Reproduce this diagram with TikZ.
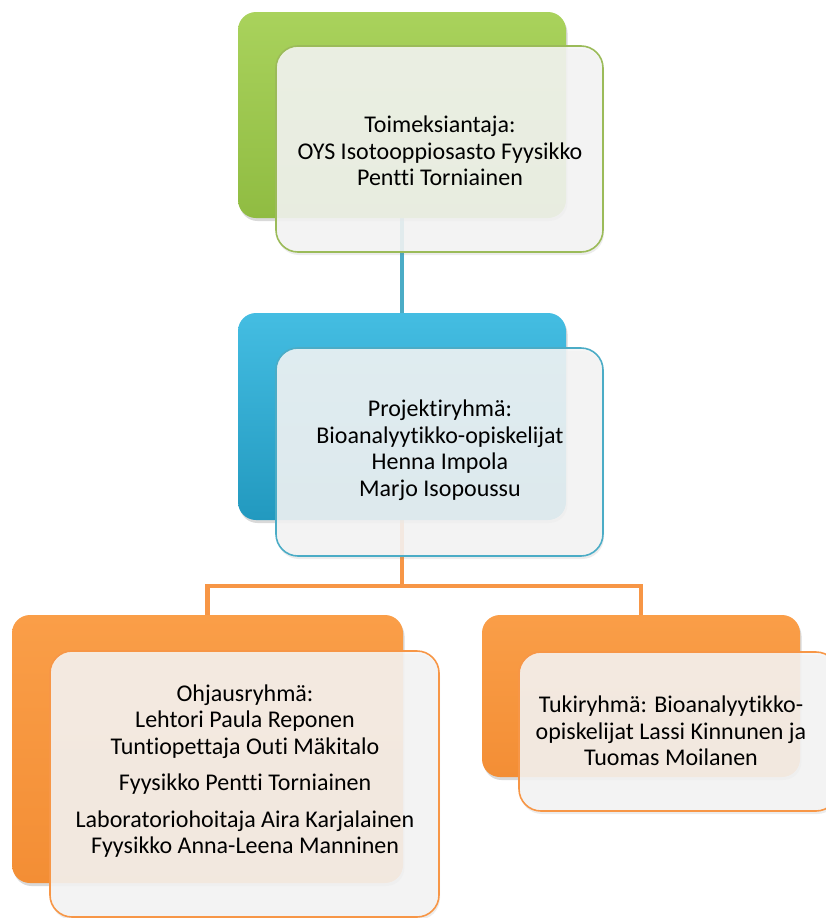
\documentclass[tikz,border=0pt]{standalone}
\usepackage{fontspec}
\setmainfont[Ligatures=NoCommon]{Carlito}
\usetikzlibrary{shadows}
\pgfdeclarelayer{background}
\pgfsetlayers{background,main}
\definecolor{gtop}{HTML}{A9D25C}
\definecolor{gbot}{HTML}{90BC42}
\definecolor{gline}{HTML}{9BBB59}
\definecolor{btop}{HTML}{44BDE2}
\definecolor{bbot}{HTML}{2299BF}
\definecolor{bline}{HTML}{4BACC6}
\definecolor{otop}{HTML}{FA9E48}
\definecolor{obot}{HTML}{F38E35}
\definecolor{oline}{HTML}{F79646}
\definecolor{frontfill}{HTML}{F5F5F5}
\begin{document}
\begin{tikzpicture}[x=1pt,y=-1pt,
  backbox/.style={rectangle, rounded corners=18pt, inner sep=0pt, draw=none,
    drop shadow={shadow xshift=1.5pt, shadow yshift=-3pt, opacity=0.3}},
  frontbox/.style={rectangle, rounded corners=22pt, inner sep=0pt, line width=1.6pt,
    fill=frontfill, fill opacity=0.88, draw opacity=1,
    drop shadow={shadow xshift=1pt, shadow yshift=-3pt, opacity=0.15}},
  label/.style={align=center, font=\fontsize{24}{26.5}\selectfont, text=black},
  blueconn/.style={line width=4pt, draw=bline},
  orangeconn/.style={line width=4.5pt, draw=oline}]
\useasboundingbox (0,0) rectangle (825,918);
% back boxes
\node[backbox, top color=gtop, bottom color=gbot, minimum width=328pt, minimum height=206pt] (gback) at (402,115) {};
\node[backbox, top color=btop, bottom color=bbot, minimum width=328pt, minimum height=207pt] (bback) at (402,416.5) {};
\node[backbox, top color=otop, bottom color=obot, minimum width=391pt, minimum height=268pt] (lback) at (207.5,749) {};
\node[backbox, top color=otop, bottom color=obot, minimum width=318pt, minimum height=162pt] (rback) at (641,696) {};
% connectors
\coordinate (j) at (402,586);
\begin{pgfonlayer}{background}
\draw[blueconn] (gback.south) -- (bback.north);
\draw[orangeconn] (bback.south) -- (j);
\draw[orangeconn] (lback.north) -- (lback.north |- j) -- (rback.north |- j) -- (rback.north);
\end{pgfonlayer}
% front boxes
\node[frontbox, draw=gline, minimum width=327pt, minimum height=206pt] (gfront) at (439.5,149) {};
\node[frontbox, draw=bline, minimum width=327pt, minimum height=208pt] (bfront) at (439.5,452) {};
\node[frontbox, draw=oline, minimum width=389pt, minimum height=266pt] (lfront) at (244.5,784) {};
\node[frontbox, draw=oline, minimum width=319pt, minimum height=159pt] (rfront) at (678.5,731.5) {};
% texts
\node[label] (gtext) at (440,151) {Toimeksiantaja:\\OYS Isotooppiosasto Fyysikko\\Pentti Torniainen};
\node[label] (btext) at (440,450) {Projektiryhmä:\\Bioanalyytikko-opiskelijat\\Henna Impola\\Marjo Isopoussu};
\node[label] (ltext) at (245,771) {Ohjausryhmä:\\Lehtori Paula Reponen\\Tuntiopettaja Outi Mäkitalo\\[10pt]Fyysikko Pentti Torniainen\\[10pt]Laboratoriohoitaja Aira Karjalainen\\Fyysikko Anna-Leena Manninen};
\node[label] (rtext) at (671,731) {Tukiryhmä: Bioanalyytikko-\\opiskelijat Lassi Kinnunen ja\\Tuomas Moilanen};
\end{tikzpicture}
\end{document}
